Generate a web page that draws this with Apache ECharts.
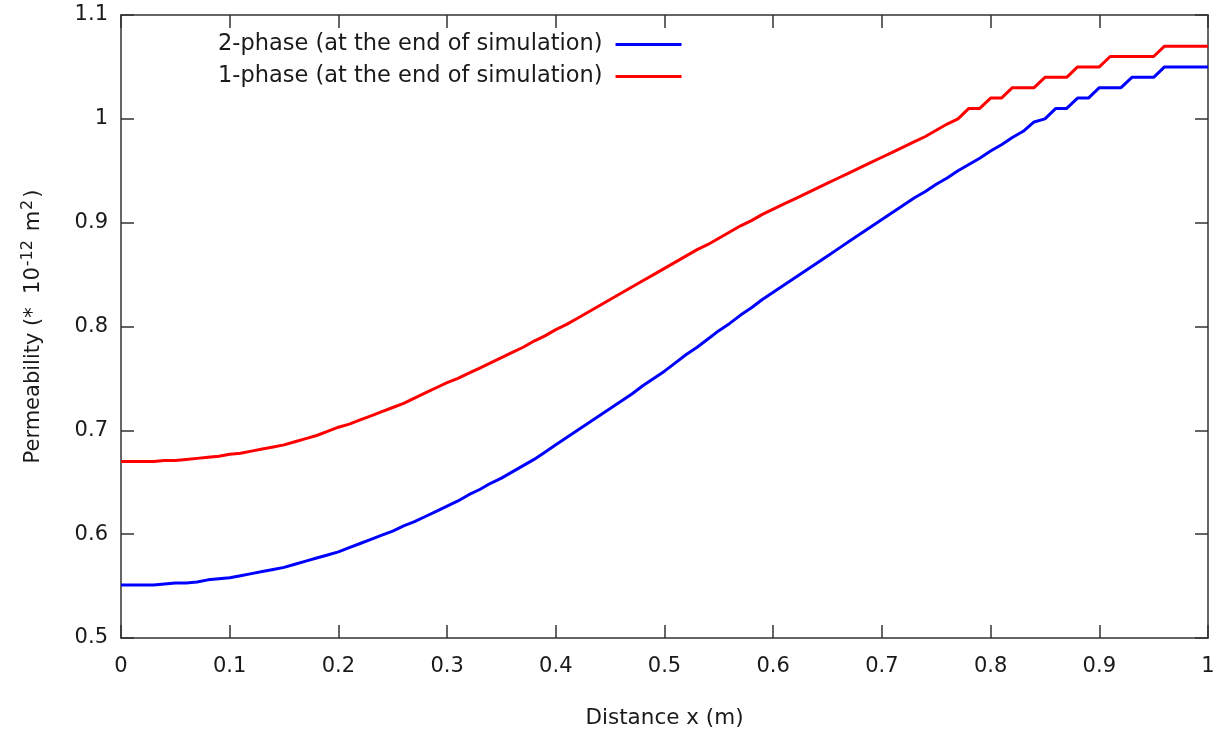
<!DOCTYPE html>
<html>
<head>
<meta charset="utf-8">
<script src="https://cdn.jsdelivr.net/npm/echarts@6/dist/echarts.min.js"></script>
<style>
  html, body { margin: 0; padding: 0; background: #fff; }
  #chart { width: 1227px; height: 736px; }
</style>
</head>
<body>
<div id="chart"></div>
<script>
// distance along the sample (m), 0.01 step
const distance = [
  0.00, 0.01, 0.02, 0.03, 0.04, 0.05, 0.06, 0.07, 0.08, 0.09,
  0.10, 0.11, 0.12, 0.13, 0.14, 0.15, 0.16, 0.17, 0.18, 0.19,
  0.20, 0.21, 0.22, 0.23, 0.24, 0.25, 0.26, 0.27, 0.28, 0.29,
  0.30, 0.31, 0.32, 0.33, 0.34, 0.35, 0.36, 0.37, 0.38, 0.39,
  0.40, 0.41, 0.42, 0.43, 0.44, 0.45, 0.46, 0.47, 0.48, 0.49,
  0.50, 0.51, 0.52, 0.53, 0.54, 0.55, 0.56, 0.57, 0.58, 0.59,
  0.60, 0.61, 0.62, 0.63, 0.64, 0.65, 0.66, 0.67, 0.68, 0.69,
  0.70, 0.71, 0.72, 0.73, 0.74, 0.75, 0.76, 0.77, 0.78, 0.79,
  0.80, 0.81, 0.82, 0.83, 0.84, 0.85, 0.86, 0.87, 0.88, 0.89,
  0.90, 0.91, 0.92, 0.93, 0.94, 0.95, 0.96, 0.97, 0.98, 0.99,
  1.00
]

// 2-phase permeability at the end of simulation
const perm2phase = [
  0.551, 0.551, 0.551, 0.551, 0.552, 0.553, 0.553, 0.554, 0.556, 0.557,
  0.558, 0.560, 0.562, 0.564, 0.566, 0.568, 0.571, 0.574, 0.577, 0.580,
  0.583, 0.587, 0.591, 0.595, 0.599, 0.603, 0.608, 0.612, 0.617, 0.622,
  0.627, 0.632, 0.638, 0.643, 0.649, 0.654, 0.660, 0.666, 0.672, 0.679,
  0.686, 0.693, 0.700, 0.707, 0.714, 0.721, 0.728, 0.735, 0.743, 0.750,
  0.757, 0.765, 0.773, 0.780, 0.788, 0.796, 0.803, 0.811, 0.818, 0.826,
  0.833, 0.840, 0.847, 0.854, 0.861, 0.868, 0.875, 0.882, 0.889, 0.896,
  0.903, 0.910, 0.917, 0.924, 0.930, 0.937, 0.943, 0.950, 0.956, 0.962,
  0.969, 0.975, 0.982, 0.988, 0.997, 1.00, 1.01, 1.01, 1.02, 1.02,
  1.03, 1.03, 1.03, 1.04, 1.04, 1.04, 1.05, 1.05, 1.05, 1.05,
  1.05
]

// 1-phase permeability at the end of simulation
const perm1phase = [
  0.670, 0.670, 0.670, 0.670, 0.671, 0.671, 0.672, 0.673, 0.674, 0.675,
  0.677, 0.678, 0.680, 0.682, 0.684, 0.686, 0.689, 0.692, 0.695, 0.699,
  0.703, 0.706, 0.710, 0.714, 0.718, 0.722, 0.726, 0.731, 0.736, 0.741,
  0.746, 0.750, 0.755, 0.760, 0.765, 0.770, 0.775, 0.780, 0.786, 0.791,
  0.797, 0.802, 0.808, 0.814, 0.820, 0.826, 0.832, 0.838, 0.844, 0.850,
  0.856, 0.862, 0.868, 0.874, 0.879, 0.885, 0.891, 0.897, 0.902, 0.908,
  0.913, 0.918, 0.923, 0.928, 0.933, 0.938, 0.943, 0.948, 0.953, 0.958,
  0.963, 0.968, 0.973, 0.978, 0.983, 0.989, 0.995, 1.00, 1.01, 1.01,
  1.02, 1.02, 1.03, 1.03, 1.03, 1.04, 1.04, 1.04, 1.05, 1.05,
  1.05, 1.06, 1.06, 1.06, 1.06, 1.06, 1.07, 1.07, 1.07, 1.07,
  1.07
]

const seriesNames = [
  '2-phase (at the end of simulation)',
  '1-phase (at the end of simulation)'
]

const FONT = 'DejaVu Sans'
const TEXT = '#1a1a1a'
const FRAME = '#333'

const pairs = (ys) => distance.map((x, i) => [x, ys[i]])

const chart = echarts.init(document.getElementById('chart'), null, { renderer: 'canvas' })

const frameAxis = (extra) => Object.assign({
  type: 'value',
  axisLine: { show: true, onZero: false, lineStyle: { color: FRAME, width: 1.5 } },
  axisTick: { show: true, inside: true, length: 13, lineStyle: { color: FRAME, width: 1.5 } },
  splitLine: { show: false }
}, extra)

const option = {
  backgroundColor: '#fff',
  animation: false,
  textStyle: { fontFamily: FONT },
  legend: {
    orient: 'vertical',
    left: 213,
    top: 28,
    align: 'right',
    icon: 'rect',
    itemWidth: 66,
    itemHeight: 3,
    itemGap: 9,
    textStyle: { fontFamily: FONT, fontSize: 22.5, color: TEXT, padding: [0, 8, 0, 0] },
    data: seriesNames
  },
  grid: { left: 121, right: 19, top: 15, bottom: 98 },
  xAxis: [
    frameAxis({
      min: 0, max: 1, interval: 0.1,
      name: 'Distance x (m)',
      nameLocation: 'middle',
      nameGap: 69,
      nameTextStyle: { fontFamily: FONT, fontSize: 21.5, color: TEXT },
      axisLabel: { margin: 18, fontFamily: FONT, fontSize: 21, color: TEXT }
    }),
    frameAxis({
      position: 'top', min: 0, max: 1, interval: 0.1,
      axisLabel: { show: false }
    })
  ],
  yAxis: [
    frameAxis({
      min: 0.5, max: 1.1, interval: 0.1,
      name: '{t|Permeability (*  10}{s|-12}{t| m}{s|2}{t|)}',
      nameLocation: 'middle',
      nameGap: 73,
      nameTextStyle: {
        rich: {
          t: { fontFamily: FONT, fontSize: 21, color: TEXT, lineHeight: 28 },
          s: { fontFamily: FONT, fontSize: 16, color: TEXT, verticalAlign: 'top', lineHeight: 12, padding: [0, 2, 0, 1] }
        }
      },
      axisLabel: { margin: 13, fontFamily: FONT, fontSize: 21, color: TEXT }
    }),
    frameAxis({
      position: 'right', min: 0.5, max: 1.1, interval: 0.1,
      axisLabel: { show: false }
    })
  ],
  series: [
    {
      name: seriesNames[0],
      type: 'line',
      data: pairs(perm2phase),
      showSymbol: false,
      symbol: 'none',
      lineStyle: { color: '#0000ff', width: 3 },
      itemStyle: { color: '#0000ff' }
    },
    {
      name: seriesNames[1],
      type: 'line',
      data: pairs(perm1phase),
      showSymbol: false,
      symbol: 'none',
      lineStyle: { color: '#ff0000', width: 3 },
      itemStyle: { color: '#ff0000' }
    }
  ]
}

chart.setOption(option)
</script>
</body>
</html>
